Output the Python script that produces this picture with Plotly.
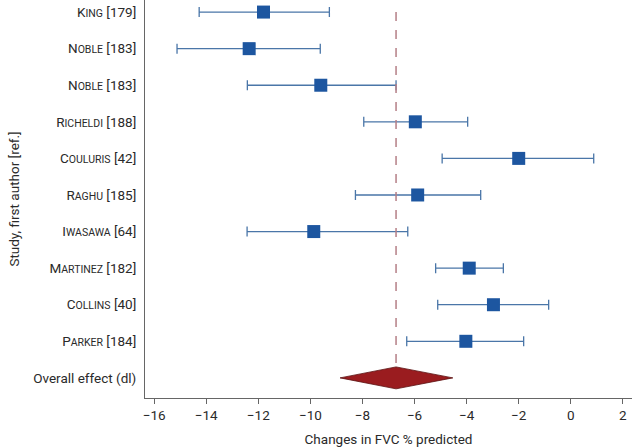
import plotly.graph_objects as go

# Data (top to bottom)
studies = ["King [179]", "Noble [183]", "Noble [183]", "Richeldi [188]", "Couluris [42]",
           "Raghu [185]", "Iwasawa [64]", "Martinez [182]", "Collins [40]", "Parker [184]"]
estimates = [-11.8, -12.35, -9.6, -5.97, -2.0, -5.88, -9.87, -3.9, -2.97, -4.03]
ci_low = [-14.27, -15.12, -12.42, -7.95, -4.94, -8.27, -12.43, -5.19, -5.11, -6.30]
ci_high = [-9.27, -9.62, -6.71, -3.96, 0.88, -3.46, -6.26, -2.59, -0.85, -1.81]
overall_label = "Overall effect (dl)"
overall_est = -6.71
overall_low = -8.86
overall_high = -4.53
x_ticks = [-16, -14, -12, -10, -8, -6, -4, -2, 0, 2]

FONT = "Roboto, Open Sans, sans-serif"

def small_caps(label):
    name, ref = label.split(" ", 1)
    return (name[0] + '<span style="font-size:10.5px">' + name[1:].upper() + "</span> " + ref)

n = len(studies)
ypos = [n - i for i in range(n)]  # 10..1
overall_y = 0

tickvals = ypos + [overall_y]
ticktext = [small_caps(s) for s in studies] + [overall_label]

fig = go.Figure()

fig.add_trace(go.Scatter(
    x=estimates, y=ypos, mode="markers",
    marker=dict(symbol="square", size=13, color="#1d56a0", line=dict(width=0)),
    error_x=dict(type="data", symmetric=False,
                 array=[h - e for h, e in zip(ci_high, estimates)],
                 arrayminus=[e - l for e, l in zip(estimates, ci_low)],
                 color="#4a76a8", thickness=1.3, width=5),
    showlegend=False, hoverinfo="skip",
))

# Diamond for overall effect
dh = 0.3
fig.add_trace(go.Scatter(
    x=[overall_low, overall_est, overall_high, overall_est, overall_low],
    y=[overall_y, overall_y + dh, overall_y, overall_y - dh, overall_y],
    mode="lines", fill="toself", fillcolor="#9a1c1f",
    line=dict(color="#5a1010", width=0.8),
    showlegend=False, hoverinfo="skip",
))

# Dashed line at overall estimate
fig.add_trace(go.Scatter(
    x=[overall_est, overall_est], y=[n, overall_y + dh],
    mode="lines", line=dict(color="#b57f86", width=1.5, dash="dash"),
    showlegend=False, hoverinfo="skip",
))

fig.update_layout(
    width=640, height=448,
    margin=dict(l=145, r=8, t=0, b=50),
    paper_bgcolor="white", plot_bgcolor="white",
    font=dict(family=FONT, size=13.5, color="#2a2a2a"),
    xaxis=dict(
        range=[-16.35, 2.35], tickvals=x_ticks,
        ticktext=[("\u2212" + str(abs(v))) if v < 0 else str(v) for v in x_ticks],
        showgrid=False, zeroline=False,
        showline=True, linecolor="#666", linewidth=1,
        ticks="outside", ticklen=5, tickcolor="#666",
        tickfont=dict(size=13.5, color="#2a2a2a"),
        title=dict(text="Changes in FVC % predicted", font=dict(size=13.5), standoff=12),
    ),
    yaxis=dict(
        range=[-0.55, 10.33], tickvals=tickvals, ticktext=ticktext,
        showgrid=False, zeroline=False,
        showline=True, linecolor="#666", linewidth=1,
        ticks="", ticklabelstandoff=5,
        tickfont=dict(size=13.5, color="#2a2a2a"),
        title=dict(text="Study, first author [ref.]", font=dict(size=13.5), standoff=10),
    ),
)

fig.write_html("out.html", config={"displayModeBar": False},
               post_script="document.body.style.margin='0px';")
